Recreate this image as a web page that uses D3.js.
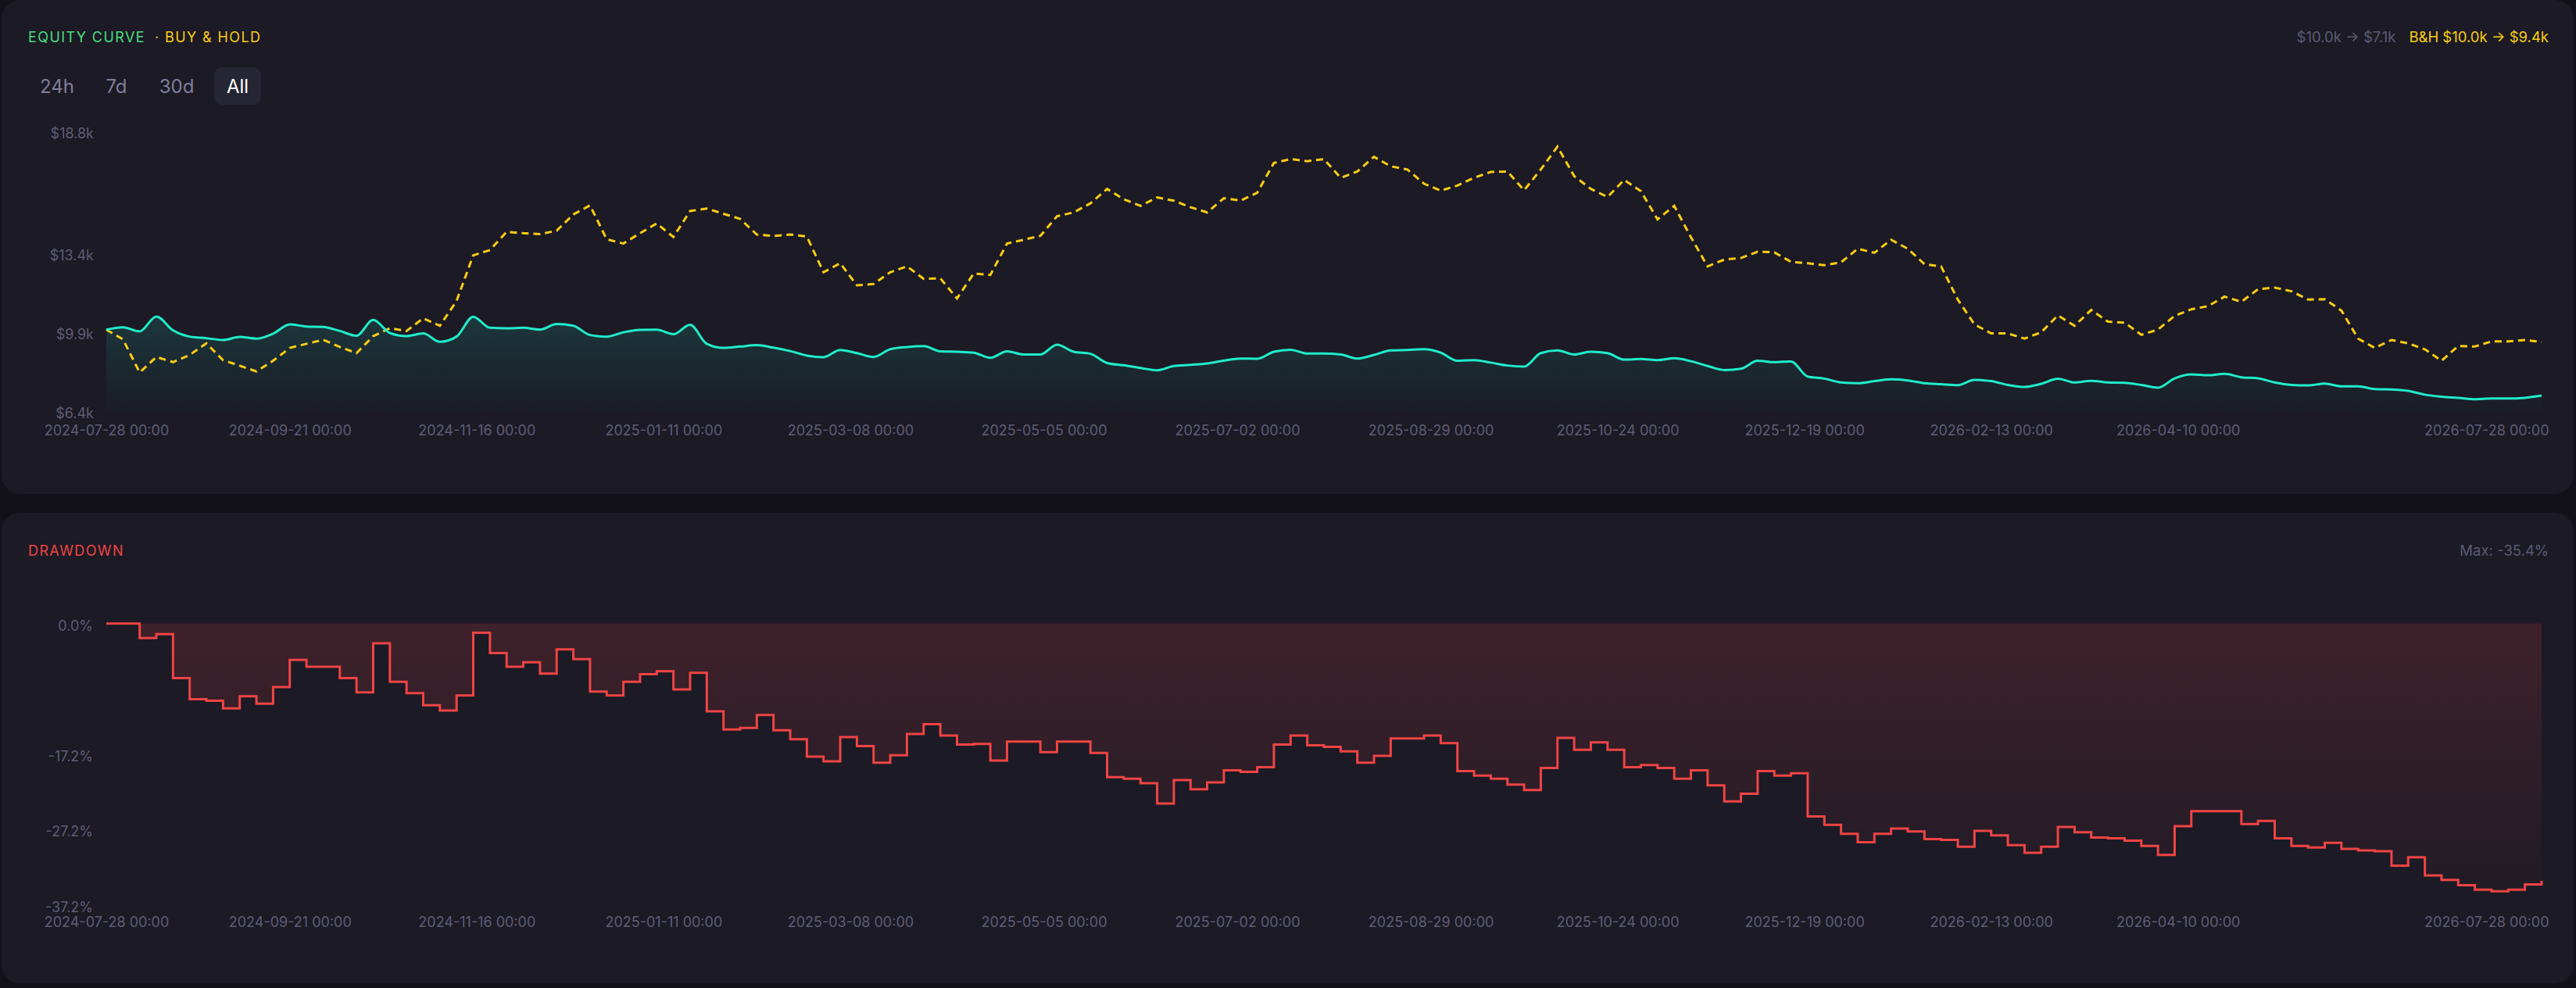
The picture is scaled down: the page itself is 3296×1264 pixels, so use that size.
<!DOCTYPE html>
<html>
<head>
<meta charset="utf-8">
<script src="https://cdn.jsdelivr.net/npm/d3@7"></script>
<style>
  html, body { margin: 0; background: #121119; }
  svg { display: block; font-family: Inter, "Noto Sans", sans-serif; }
</style>
</head>
<body>
<script>
// sampling of the series: one point every 5 days from the start date
const startDate = "2024-07-28";
const endDate = "2026-07-28";
const stepDays = 5;

// strategy equity, $k
const equity = [
  10.00, 10.10, 9.92, 10.58, 9.97, 9.69, 9.62, 9.54, 9.68, 9.60,
  9.82, 10.23, 10.14, 10.12, 9.94, 9.73, 10.43, 9.85, 9.71, 9.83,
  9.46, 9.69, 10.57, 10.08, 10.06, 10.08, 10.00, 10.25, 10.17, 9.76,
  9.69, 9.88, 9.99, 10.00, 9.80, 10.21, 9.37, 9.19, 9.25, 9.31,
  9.20, 9.05, 8.85, 8.78, 9.10, 8.96, 8.79, 9.13, 9.23, 9.27,
  9.04, 9.02, 8.98, 8.75, 9.04, 8.90, 8.90, 9.33, 9.02, 8.93,
  8.52, 8.42, 8.30, 8.20, 8.39, 8.44, 8.50, 8.63, 8.72, 8.71,
  9.02, 9.11, 8.94, 8.94, 8.90, 8.72, 8.88, 9.08, 9.10, 9.13,
  8.98, 8.62, 8.65, 8.54, 8.41, 8.36, 8.96, 9.08, 8.90, 9.02,
  8.96, 8.67, 8.70, 8.65, 8.73, 8.60, 8.39, 8.21, 8.27, 8.62,
  8.56, 8.59, 7.92, 7.83, 7.66, 7.63, 7.72, 7.80, 7.75, 7.63,
  7.58, 7.54, 7.77, 7.72, 7.55, 7.46, 7.60, 7.83, 7.66, 7.73,
  7.66, 7.64, 7.55, 7.43, 7.84, 8.02, 7.98, 8.04, 7.89, 7.84,
  7.66, 7.55, 7.53, 7.61, 7.49, 7.49, 7.37, 7.35, 7.29, 7.12,
  7.03, 6.98, 6.92, 6.95, 6.95, 6.98, 7.08
];

// buy & hold benchmark, $k
const buyHold = [
  10.00, 9.57, 8.10, 8.79, 8.56, 8.88, 9.39, 8.65, 8.40, 8.15,
  8.62, 9.19, 9.37, 9.55, 9.23, 8.96, 9.71, 10.06, 9.94, 10.50,
  10.17, 11.27, 13.29, 13.52, 14.33, 14.27, 14.23, 14.38, 15.10, 15.50,
  14.00, 13.81, 14.27, 14.70, 14.10, 15.25, 15.36, 15.13, 14.90, 14.21,
  14.15, 14.21, 14.12, 12.54, 12.94, 11.96, 12.02, 12.54, 12.80, 12.25,
  12.27, 11.38, 12.48, 12.42, 13.81, 13.98, 14.15, 15.02, 15.19, 15.59,
  16.23, 15.77, 15.48, 15.85, 15.71, 15.42, 15.19, 15.82, 15.71, 16.06,
  17.38, 17.55, 17.46, 17.55, 16.72, 17.00, 17.65, 17.23, 17.09, 16.46,
  16.15, 16.38, 16.72, 16.98, 17.00, 16.17, 17.09, 18.10, 16.80, 16.23,
  15.87, 16.63, 16.13, 14.88, 15.48, 14.09, 12.80, 13.10, 13.17, 13.45,
  13.42, 13.00, 12.94, 12.85, 12.98, 13.58, 13.40, 13.98, 13.58, 12.90,
  12.80, 11.33, 10.23, 9.83, 9.83, 9.60, 9.88, 10.63, 10.17, 10.87,
  10.35, 10.31, 9.77, 10.00, 10.61, 10.90, 11.04, 11.46, 11.23, 11.79,
  11.86, 11.70, 11.33, 11.35, 10.84, 9.60, 9.19, 9.54, 9.39, 9.13,
  8.62, 9.27, 9.25, 9.48, 9.48, 9.54, 9.45
];

// drawdown, %
const drawdown = [
  0, 0, -1.9, -1.4, -7.2, -10.0, -10.2, -11.2, -9.6, -10.6,
  -8.4, -4.8, -5.7, -5.7, -7.2, -9.1, -2.6, -7.7, -9.2, -10.8,
  -11.5, -9.5, -1.2, -3.9, -5.7, -5.1, -6.6, -3.4, -4.7, -9.0,
  -9.5, -7.7, -6.7, -6.3, -8.7, -6.5, -11.6, -14.0, -13.8, -12.1,
  -14.1, -15.3, -17.6, -18.2, -15.0, -16.2, -18.4, -17.4, -14.6, -13.3,
  -14.8, -16.0, -15.9, -18.1, -15.6, -15.6, -17.0, -15.6, -15.6, -17.1,
  -20.3, -20.5, -21.1, -23.8, -20.7, -21.9, -21.0, -19.4, -19.6, -19.0,
  -16.0, -14.8, -16.1, -16.3, -16.9, -18.4, -17.5, -15.2, -15.2, -14.8,
  -15.8, -19.5, -20.1, -20.5, -21.3, -22.0, -19.1, -15.1, -16.7, -15.7,
  -16.7, -19.0, -18.7, -19.1, -20.5, -19.4, -21.4, -23.5, -22.5, -19.5,
  -20.1, -19.8, -25.5, -26.6, -27.8, -28.9, -27.8, -27.1, -27.5, -28.5,
  -28.6, -29.5, -27.4, -28.0, -29.3, -30.3, -29.5, -26.9, -27.6, -28.3,
  -28.4, -28.7, -29.4, -30.6, -26.8, -24.8, -24.8, -24.8, -26.5, -26.1,
  -28.4, -29.4, -29.6, -29.0, -29.8, -30.0, -30.1, -32.0, -30.9, -33.3,
  -33.9, -34.6, -35.2, -35.4, -35.2, -34.5, -34.0
];

const dateTicks = [
  "2024-07-28", "2024-09-21", "2024-11-16", "2025-01-11", "2025-03-08",
  "2025-05-05", "2025-07-02", "2025-08-29", "2025-10-24", "2025-12-19",
  "2026-02-13", "2026-04-10", "2026-07-28"
];
const equityTicks = [6.4, 9.9, 13.4, 18.8];
const ddTicks = [0, -17.2, -27.2, -37.2];
const ranges = ["24h", "7d", "30d", "All"];
const activeRange = "All";

const W = 3296, H = 1264;
const parse = d3.utcParse("%Y-%m-%d");
const t0 = parse(startDate);
const dates = equity.map((d, i) => d3.utcDay.offset(t0, i * stepDays));
const fmtDate = d3.utcFormat("%Y-%m-%d %H:%M");
const fmtK = v => "$" + v.toFixed(1) + "k";

const x = d3.scaleUtc()
  .domain([t0, parse(endDate)])
  .range([136, 3252]);

const yEq = d3.scaleLinear()
  .domain([6.4, 18.8])
  .range([525.7, 167.4]);

const yDd = d3.scaleLinear()
  .domain([-37.2, 0])
  .range([1157.7, 797.8]);

const svg = d3.select("body").append("svg")
  .attr("width", W)
  .attr("height", H);

const defs = svg.append("defs");

const eqGrad = defs.append("linearGradient")
  .attr("id", "eqFill")
  .attr("gradientUnits", "userSpaceOnUse")
  .attr("x1", 0).attr("x2", 0)
  .attr("y1", yEq(10.6)).attr("y2", yEq(6.4));
eqGrad.append("stop").attr("offset", 0).attr("stop-color", "#20eccb").attr("stop-opacity", 0.14);
eqGrad.append("stop").attr("offset", 1).attr("stop-color", "#20eccb").attr("stop-opacity", 0.01);

const ddGrad = defs.append("linearGradient")
  .attr("id", "ddFill")
  .attr("gradientUnits", "userSpaceOnUse")
  .attr("x1", 0).attr("x2", 0)
  .attr("y1", yDd(0)).attr("y2", yDd(-37.2));
ddGrad.append("stop").attr("offset", 0).attr("stop-color", "#ef4444").attr("stop-opacity", 0.17);
ddGrad.append("stop").attr("offset", 1).attr("stop-color", "#ef4444").attr("stop-opacity", 0.02);

// panels
svg.append("rect")
  .attr("x", 2).attr("y", 0)
  .attr("width", 3291).attr("height", 632)
  .attr("rx", 24)
  .attr("fill", "#1b1a25");

svg.append("rect")
  .attr("x", 2).attr("y", 656)
  .attr("width", 3291).attr("height", 602)
  .attr("rx", 24)
  .attr("fill", "#1b1a25");

// ---- equity panel header
const title = svg.append("text")
  .attr("x", 36).attr("y", 54)
  .attr("font-size", 18)
  .attr("letter-spacing", 1.4);
title.append("tspan").attr("fill", "#4ade80").text("EQUITY CURVE");
title.append("tspan").attr("fill", "#facc15").attr("dx", 12).text("· BUY & HOLD");

const summary = svg.append("text")
  .attr("x", 3261).attr("y", 54)
  .attr("text-anchor", "end")
  .attr("font-size", 18.5);
summary.append("tspan").attr("fill", "#5c5a72")
  .text(fmtK(equity[0]) + " → " + fmtK(equity[equity.length - 1]));
summary.append("tspan").attr("fill", "#facc15").attr("dx", 17)
  .text("B&H " + fmtK(buyHold[0]) + " → $9.4k");

// range buttons
const btnX = [73, 149, 226, 304];
const btn = svg.append("g").selectAll("g")
  .data(ranges)
  .join("g")
  .attr("transform", (d, i) => `translate(${btnX[i]},110)`);

btn.filter(d => d === activeRange)
  .append("rect")
  .attr("x", -30).attr("y", -24)
  .attr("width", 60).attr("height", 48)
  .attr("rx", 10)
  .attr("fill", "#262534");

btn.append("text")
  .attr("text-anchor", "middle")
  .attr("dy", "0.36em")
  .attr("font-size", 24)
  .attr("fill", d => d === activeRange ? "#ffffff" : "#807e98")
  .text(d => d);

// ---- equity chart
const eqData = dates.map((d, i) => ({date: d, v: equity[i]}));
const bhData = dates.map((d, i) => ({date: d, v: buyHold[i]}));

svg.append("path")
  .datum(eqData)
  .attr("fill", "url(#eqFill)")
  .attr("d", d3.area()
    .x(d => x(d.date))
    .y0(yEq(6.4))
    .y1(d => yEq(d.v))
    .curve(d3.curveMonotoneX));

svg.append("path")
  .datum(bhData)
  .attr("fill", "none")
  .attr("stroke", "#facc15")
  .attr("stroke-width", 3)
  .attr("stroke-dasharray", "9,6")
  .attr("d", d3.line()
    .x(d => x(d.date))
    .y(d => yEq(d.v)));

svg.append("path")
  .datum(eqData)
  .attr("fill", "none")
  .attr("stroke", "#20eccb")
  .attr("stroke-width", 3)
  .attr("stroke-linejoin", "round")
  .attr("d", d3.line()
    .x(d => x(d.date))
    .y(d => yEq(d.v))
    .curve(d3.curveMonotoneX));

const styleAxis = (g, anchorLast) => {
  g.select(".domain").remove();
  g.selectAll("text")
    .attr("fill", "#5f5d76")
    .attr("font-size", 18)
    .attr("font-family", "Inter, 'Noto Sans', sans-serif");
  if (anchorLast) {
    g.selectAll(".tick:last-of-type text")
      .attr("text-anchor", "end")
      .attr("dx", 9);
  }
};

svg.append("g")
  .attr("transform", "translate(136,0)")
  .call(d3.axisLeft(yEq).tickValues(equityTicks).tickSize(0).tickPadding(16).tickFormat(fmtK))
  .call(g => styleAxis(g, false))
  .call(g => g.selectAll("text").attr("dy", "0.5em"));

svg.append("g")
  .attr("transform", `translate(0,${yEq(6.4)})`)
  .call(d3.axisBottom(x).tickValues(dateTicks.map(parse)).tickSize(0).tickPadding(19).tickFormat(fmtDate))
  .call(g => styleAxis(g, true));

// ---- drawdown panel
svg.append("text")
  .attr("x", 36).attr("y", 711)
  .attr("font-size", 18)
  .attr("letter-spacing", 1.4)
  .attr("fill", "#ef4444")
  .text("DRAWDOWN");

svg.append("text")
  .attr("x", 3261).attr("y", 711)
  .attr("text-anchor", "end")
  .attr("font-size", 18.5)
  .attr("fill", "#5c5a72")
  .text("Max: " + d3.min(drawdown).toFixed(1) + "%");

const ddData = dates.map((d, i) => ({date: d, v: drawdown[i]}));

svg.append("path")
  .datum(ddData)
  .attr("fill", "url(#ddFill)")
  .attr("d", d3.area()
    .x(d => x(d.date))
    .y0(yDd(0))
    .y1(d => yDd(d.v))
    .curve(d3.curveStepAfter));

svg.append("path")
  .datum(ddData)
  .attr("fill", "none")
  .attr("stroke", "#ef4444")
  .attr("stroke-width", 3)
  .attr("d", d3.line()
    .x(d => x(d.date))
    .y(d => yDd(d.v))
    .curve(d3.curveStepAfter));

svg.append("g")
  .attr("transform", "translate(136,0)")
  .call(d3.axisLeft(yDd).tickValues(ddTicks).tickSize(0).tickPadding(17).tickFormat(v => v.toFixed(1) + "%"))
  .call(g => styleAxis(g, false))
  .call(g => g.selectAll("text").attr("dy", "0.5em"));

svg.append("g")
  .attr("transform", `translate(0,${yDd(-37.2)})`)
  .call(d3.axisBottom(x).tickValues(dateTicks.map(parse)).tickSize(0).tickPadding(16).tickFormat(fmtDate))
  .call(g => styleAxis(g, true));
</script>
</body>
</html>
